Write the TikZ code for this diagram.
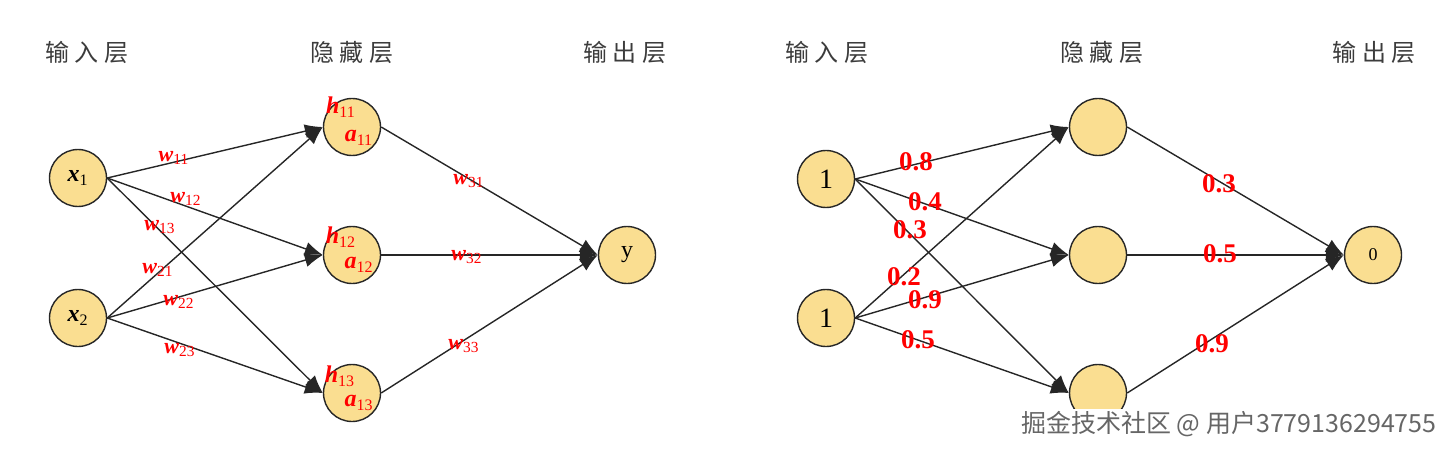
\documentclass[tikz,border=0pt]{standalone}
\usepackage{fontspec}
\setmainfont{Liberation Serif}
\newfontfamily\cjk[LetterSpace=22]{Noto Sans CJK SC}
\newfontfamily\cjkmark{Noto Sans CJK SC}
\usetikzlibrary{arrows.meta}
\definecolor{cellfill}{RGB}{250,222,145}
\definecolor{headgray}{RGB}{60,60,60}
\newcommand{\wt}[1]{\textbf{\textit{w}}\textsubscript{#1}}
\newcommand{\bi}[1]{\textbf{\textit{#1}}}
\tikzset{
  neuron/.style={circle,draw=black!85,line width=0.7pt,fill=cellfill,minimum size=28.5pt,inner sep=0pt},
  conn/.style={draw=black!85,line width=0.7pt,-{Latex[length=9pt,width=7pt]}},
  layer/.style={text=headgray,font=\cjk\fontsize{12}{13}\selectfont},
  wlabel/.style={text=red,font=\fontsize{11}{12}\selectfont,inner sep=0pt},
  numlabel/.style={text=red,font=\bfseries\fontsize{13.5}{14}\selectfont,inner sep=0pt}
}
\begin{document}
\begin{tikzpicture}[x=0.5pt,y=-0.5pt]
\useasboundingbox (0,0) rectangle (1454,454);

% layer titles
\node[layer] (tin) at (87,52) {输入层};
\node[layer] (thid) at (352,52) {隐藏层};
\node[layer] (tout) at (625,52) {输出层};
\node[layer] (tin2) at (827,52) {输入层};
\node[layer] (thid2) at (1102,52) {隐藏层};
\node[layer] (tout2) at (1374,52) {输出层};

% left network
\node[neuron] (x1) at (78,178) {\fontsize{12}{12}\selectfont\bi{x}\textsubscript{1}};
\node[neuron] (x2) at (78,318) {\fontsize{12}{12}\selectfont\bi{x}\textsubscript{2}};
\node[neuron] (h11) at (352,127) {};
\node[neuron] (h12) at (352,255) {};
\node[neuron] (h13) at (352,393) {};
\node[neuron] (y) at (627,255) {\fontsize{12}{12}\selectfont y};

\foreach \i in {1,2}
  \foreach \j in {1,2,3}
    \draw[conn] (x\i.east) -- (h1\j.west);
\foreach \j in {1,2,3}
  \draw[conn] (h1\j.east) -- (y.west);

\node[wlabel] (w11) at (174,158) {\wt{11}};
\node[wlabel] (w12) at (186,199) {\wt{12}};
\node[wlabel] (w13) at (160,227) {\wt{13}};
\node[wlabel] (w21) at (158,270) {\wt{21}};
\node[wlabel] (w22) at (179,302) {\wt{22}};
\node[wlabel] (w23) at (180,350) {\wt{23}};
\node[wlabel] (w31) at (469,181) {\wt{31}};
\node[wlabel] (w32) at (467,257) {\wt{32}};
\node[wlabel] (w33) at (464,346) {\wt{33}};

\node[wlabel,font=\fontsize{12}{13}\selectfont] (lh11) at (341,107) {\bi{h}\textsubscript{11}};
\node[wlabel,font=\fontsize{12}{13}\selectfont] (la11) at (359,138) {\bi{a}\textsubscript{11}};
\node[wlabel,font=\fontsize{12}{13}\selectfont] (lh12) at (341,237) {\bi{h}\textsubscript{12}};
\node[wlabel,font=\fontsize{12}{13}\selectfont] (la12) at (359,265) {\bi{a}\textsubscript{12}};
\node[wlabel,font=\fontsize{12}{13}\selectfont] (lh13) at (340,376) {\bi{h}\textsubscript{13}};
\node[wlabel,font=\fontsize{12}{13}\selectfont] (la13) at (359,403) {\bi{a}\textsubscript{13}};

% right network
\node[neuron] (in1) at (826,179) {\fontsize{14}{14}\selectfont 1};
\node[neuron] (in2) at (826,318) {\fontsize{14}{14}\selectfont 1};
\node[neuron] (hid1) at (1098,127) {};
\node[neuron] (hid2) at (1098,255) {};
\node[neuron] (hid3) at (1098,393) {};
\node[neuron] (out) at (1373,255) {\fontsize{9}{9}\selectfont 0};

\foreach \i in {1,2}
  \foreach \j in {1,2,3}
    \draw[conn] (in\i.east) -- (hid\j.west);
\foreach \j in {1,2,3}
  \draw[conn] (hid\j.east) -- (out.west);

\node[numlabel] (v11) at (916,162) {0.8};
\node[numlabel] (v12) at (925,202) {0.4};
\node[numlabel] (v13) at (910,230) {0.3};
\node[numlabel] (v21) at (904,277) {0.2};
\node[numlabel] (v22) at (925,300) {0.9};
\node[numlabel] (v23) at (918,340) {0.5};
\node[numlabel] (v31) at (1219,184) {0.3};
\node[numlabel] (v32) at (1220,254) {0.5};
\node[numlabel] (v33) at (1212,344) {0.9};

% watermark
\node[fill=white,text=black!60,font=\cjkmark\fontsize{12.5}{13}\selectfont,anchor=east,inner sep=1pt] (mark) at (1439,424) {掘金技术社区 @ 用户3779136294755};
\end{tikzpicture}
\end{document}
